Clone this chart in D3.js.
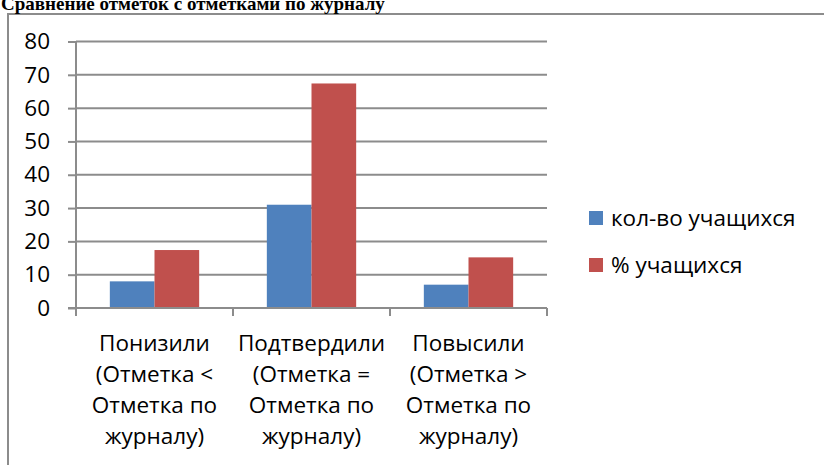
<!DOCTYPE html>
<html><head><meta charset="utf-8">
<script src="https://cdn.jsdelivr.net/npm/d3@7"></script>
<style>body{margin:0;background:#fff}svg{display:block}</style>
</head><body>
<script>
const title = "Сравнение отметок с отметками по журналу";
const categories = [
  ["Понизили","(Отметка <","Отметка по","журналу)"],
  ["Подтвердили","(Отметка =","Отметка по","журналу)"],
  ["Повысили","(Отметка >","Отметка по","журналу)"]
];
const seriesNames = ["кол-во учащихся","% учащихся"];
const seriesColors = ["#4F81BD","#C0504D"];
const countValues = [8, 31, 7];
const percentValues = [17.4, 67.4, 15.2];
const yTicks = [0,10,20,30,40,50,60,70,80];

(function(){
const W=824,H=465;
const svg=d3.select("body").append("svg").attr("width",W).attr("height",H);
const font="'Open Sans', Lato, sans-serif";
const fs=22.5;

svg.append("path").attr("d","M8,470 V14 H830").attr("fill","none").attr("stroke","#8c8c8c").attr("stroke-width",2);

svg.append("text").attr("x",1).attr("y",10).text(title)
  .attr("font-family","'Liberation Serif', serif").attr("font-weight","bold").attr("font-size",19).attr("fill","#000");

const pLeft=76,pRight=547,pTop=41.5,pBottom=308;
const y=d3.scaleLinear().domain([0,80]).range([pBottom,pTop]);
const idx=categories.map((d,i)=>i);
const po=0.2155;
const x0=d3.scaleBand().domain(idx).range([pLeft,pRight]).paddingInner(0.431).paddingOuter(po);
const x1=d3.scaleBand().domain([0,1]).range([0,x0.bandwidth()]);

const grid="#8c8c8c";
svg.append("g").selectAll("line").data(yTicks.filter(t=>t>0)).join("line")
  .attr("x1",pLeft).attr("x2",pRight).attr("y1",d=>y(d)).attr("y2",d=>y(d))
  .attr("stroke",grid).attr("stroke-width",2);

const data=idx.map(i=>[countValues[i],percentValues[i]]);
const g=svg.append("g").selectAll("g").data(data).join("g").attr("transform",(d,i)=>`translate(${x0(i)},0)`);
g.selectAll("rect").data(d=>d).join("rect")
  .attr("x",(d,j)=>x1(j)).attr("width",x1.bandwidth())
  .attr("y",d=>y(d)).attr("height",d=>pBottom-y(d))
  .attr("fill",(d,j)=>seriesColors[j]);

const ya=svg.append("g").attr("transform",`translate(${pLeft},0)`)
  .call(d3.axisLeft(y).tickValues(yTicks).tickSize(8).tickPadding(18).tickSizeOuter(0));
ya.select(".domain").attr("stroke",grid).attr("stroke-width",2).attr("d",`M0,${pTop}V${pBottom+8}`);
ya.selectAll(".tick line").attr("stroke",grid).attr("stroke-width",2);
ya.selectAll(".tick text").attr("font-family",font).attr("font-size",fs).attr("fill","#000");

const xa=svg.append("g").attr("transform",`translate(0,${pBottom})`);
xa.append("line").attr("x1",pLeft-8).attr("x2",pRight).attr("y1",0).attr("y2",0).attr("stroke",grid).attr("stroke-width",2);
const tickX=idx.map(i=>x0(i)-x0.step()*po).concat([pRight]);
xa.selectAll("line.t").data(tickX).join("line").attr("class","t")
  .attr("x1",d=>d).attr("x2",d=>d).attr("y1",0).attr("y2",8).attr("stroke",grid).attr("stroke-width",2);
const lab=xa.selectAll("text").data(categories).join("text")
  .attr("font-family",font).attr("font-size",fs).attr("fill","#000").attr("text-anchor","middle");
lab.selectAll("tspan").data((d,i)=>d.map(s=>({s,i}))).join("tspan")
  .attr("x",d=>x0(d.i)+x0.bandwidth()/2).attr("y",(d,k)=>43+k*31).text(d=>d.s);

const lg=svg.append("g").selectAll("g").data(seriesNames).join("g")
  .attr("transform",(d,i)=>`translate(589,${211+i*47})`);
lg.append("rect").attr("width",14).attr("height",14).attr("fill",(d,i)=>seriesColors[i]);
lg.append("text").attr("x",22).attr("y",7).attr("dy","0.35em").text(d=>d)
  .attr("font-family",font).attr("font-size",fs).attr("fill","#000");
})();
</script>
</body></html>
